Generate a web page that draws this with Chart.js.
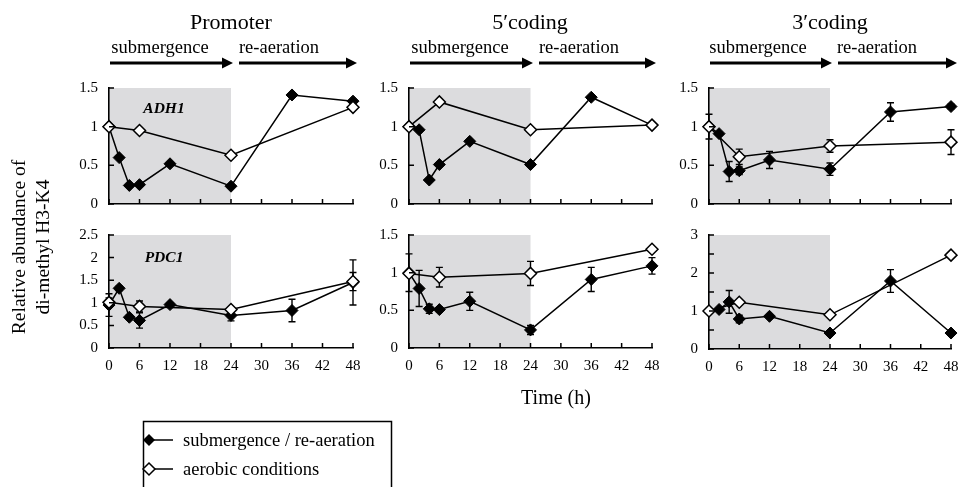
<!DOCTYPE html>
<html><head><meta charset="utf-8">
<script src="https://cdn.jsdelivr.net/npm/chart.js@4.4.1/dist/chart.umd.min.js"></script>
<style>
html,body{margin:0;padding:0;background:#fff;}
#root{position:relative;width:961px;height:487px;overflow:hidden;font-family:"Liberation Serif","Times New Roman",serif;color:#000;}
.t{position:absolute;white-space:nowrap;transform:translate(-50%,-50%);line-height:1;z-index:3;}
.r{transform:translate(-50%,-50%) rotate(-90deg);}
canvas{position:absolute;z-index:1;}
svg{position:absolute;left:0;top:0;z-index:2;}
</style></head><body><div id="root">
<svg width="961" height="487" id="deco"></svg>
<div class="t" style="left:231px;top:22px;font-size:22px;">Promoter</div>
<div class="t" style="left:530px;top:22px;font-size:22px;">5′coding</div>
<div class="t" style="left:830px;top:22px;font-size:22px;">3′coding</div>
<div class="t" style="left:160px;top:47px;font-size:18.5px;">submergence</div>
<div class="t" style="left:279px;top:47px;font-size:18.5px;">re-aeration</div>
<div class="t" style="left:460px;top:47px;font-size:18.5px;">submergence</div>
<div class="t" style="left:579px;top:47px;font-size:18.5px;">re-aeration</div>
<div class="t" style="left:758px;top:47px;font-size:18.5px;">submergence</div>
<div class="t" style="left:877px;top:47px;font-size:18.5px;">re-aeration</div>
<div class="t r" style="left:19px;top:247px;font-size:19.5px;">Relative abundance of</div>
<div class="t r" style="left:43px;top:247px;font-size:19.5px;">di-methyl H3-K4</div>
<div class="t" style="left:556px;top:397px;font-size:20px;">Time (h)</div>
<div class="t" style="left:164px;top:108px;font-size:15.5px;font-weight:bold;font-style:italic;">ADH1</div>
<div class="t" style="left:164px;top:257px;font-size:15.5px;font-weight:bold;font-style:italic;">PDC1</div>
<div class="t" style="left:183px;top:440px;font-size:18.5px;transform:translate(0,-50%);">submergence / re-aeration</div>
<div class="t" style="left:183px;top:469px;font-size:18.5px;transform:translate(0,-50%);">aerobic conditions</div>
</div>
<script>
// ---- data ----
const hoursSub = [0, 2, 4, 6, 12, 24, 36, 48];
const hoursAer = [0, 6, 24, 48];
const timeTicks = [0, 6, 12, 18, 24, 30, 36, 42, 48];
const timeTickLabels = ['0','6','12','18','24','30','36','42','48'];
const shadeHours = [0, 24];

const promADH1Sub = [1.0, 0.60, 0.24, 0.25, 0.52, 0.23, 1.41, 1.33];
const promADH1SubErr = [0, 0, 0, 0, 0, 0, 0, 0];
const promADH1Aer = [1.0, 0.95, 0.63, 1.25];
const promADH1AerErr = [0, 0, 0, 0];

const c5ADH1Sub = [1.0, 0.96, 0.31, 0.51, 0.81, 0.51, 1.38, 1.02];
const c5ADH1SubErr = [0, 0, 0, 0, 0, 0, 0, 0];
const c5ADH1Aer = [1.0, 1.32, 0.96, 1.02];
const c5ADH1AerErr = [0, 0, 0, 0];

const c3ADH1Sub = [1.0, 0.91, 0.42, 0.43, 0.57, 0.45, 1.19, 1.26];
const c3ADH1SubErr = [0.16, 0.02, 0.13, 0.05, 0.11, 0.08, 0.12, 0.03];
const c3ADH1Aer = [1.0, 0.61, 0.75, 0.80];
const c3ADH1AerErr = [0, 0.10, 0.08, 0.16];

const promPDC1Sub = [0.95, 1.32, 0.68, 0.61, 0.96, 0.72, 0.83, 1.45];
const promPDC1SubErr = [0.25, 0.05, 0.05, 0.17, 0.04, 0.12, 0.25, 0.50];
const promPDC1Aer = [1.01, 0.92, 0.85, 1.47];
const promPDC1AerErr = [0.10, 0.12, 0.03, 0.20];

const c5PDC1Sub = [1.0, 0.79, 0.52, 0.51, 0.62, 0.24, 0.91, 1.09];
const c5PDC1SubErr = [0.25, 0.24, 0.06, 0.03, 0.12, 0.06, 0.16, 0.11];
const c5PDC1Aer = [0.99, 0.94, 0.99, 1.31];
const c5PDC1AerErr = [0, 0.13, 0.16, 0.02];

const c3PDC1Sub = [1.0, 1.04, 1.24, 0.79, 0.86, 0.42, 1.79, 0.42];
const c3PDC1SubErr = [0, 0.03, 0.30, 0.10, 0.04, 0.03, 0.30, 0.03];
const c3PDC1Aer = [1.0, 1.23, 0.90, 2.47];
const c3PDC1AerErr = [0, 0, 0, 0];

const yTicks15 = [0, 0.5, 1, 1.5];
const yLabels15 = ['0', '0.5', '1', '1.5'];
const yTicks25 = [0, 0.5, 1, 1.5, 2, 2.5];
const yLabels25 = ['0', '0.5', '1', '1.5', '2', '2.5'];
const yTicks3 = [0, 0.5, 1, 1.5, 2, 2.5, 3];
const yLabels3 = ['0', '', '1', '', '2', '', '3'];

const seriesNames = ['submergence / re-aeration', 'aerobic conditions'];

// ---- layout ----
const panels = [
  {left:109, right:353, top:88, bottom:204, bottomRow:false, sub:promADH1Sub, subErr:promADH1SubErr, aer:promADH1Aer, aerErr:promADH1AerErr, yT:yTicks15, yL:yLabels15},
  {left:409, right:652, top:88, bottom:204, bottomRow:false, sub:c5ADH1Sub, subErr:c5ADH1SubErr, aer:c5ADH1Aer, aerErr:c5ADH1AerErr, yT:yTicks15, yL:yLabels15},
  {left:709, right:951, top:88, bottom:204, bottomRow:false, sub:c3ADH1Sub, subErr:c3ADH1SubErr, aer:c3ADH1Aer, aerErr:c3ADH1AerErr, yT:yTicks15, yL:yLabels15},
  {left:109, right:353, top:235, bottom:348, bottomRow:true, sub:promPDC1Sub, subErr:promPDC1SubErr, aer:promPDC1Aer, aerErr:promPDC1AerErr, yT:yTicks25, yL:yLabels25},
  {left:409, right:652, top:235, bottom:348, bottomRow:true, sub:c5PDC1Sub, subErr:c5PDC1SubErr, aer:c5PDC1Aer, aerErr:c5PDC1AerErr, yT:yTicks15, yL:yLabels15},
  {left:709, right:951, top:235, bottom:349, bottomRow:true, sub:c3PDC1Sub, subErr:c3PDC1SubErr, aer:c3PDC1Aer, aerErr:c3PDC1AerErr, yT:yTicks3, yL:yLabels3}
];

const YW = 45, PT = 24, PR = 20, PB = 22;
const FONT = '"Liberation Serif","Times New Roman",serif';

const decor = {
  id: 'decor',
  beforeDraw(chart) {
    const {ctx, scales:{x, y}} = chart;
    ctx.save();
    ctx.fillStyle = '#dcdcde';
    const x0 = x.getPixelForValue(shadeHours[0]), x1 = x.getPixelForValue(shadeHours[1]);
    const y0 = y.getPixelForValue(y.max), y1 = y.getPixelForValue(y.min);
    ctx.fillRect(x0, y0, x1 - x0, y1 - y0);
    ctx.restore();
  },
  beforeDatasetsDraw(chart) {
    const {ctx, scales:{x, y}} = chart;
    ctx.save();
    ctx.strokeStyle = '#000';
    ctx.lineWidth = 1.4;
    chart.data.datasets.forEach(ds => {
      ds.data.forEach((p, i) => {
        const e = ds.errs[i];
        if (!e) return;
        const px = x.getPixelForValue(p.x);
        const pt = y.getPixelForValue(p.y + e), pb = y.getPixelForValue(p.y - e);
        ctx.beginPath();
        ctx.moveTo(px, pt); ctx.lineTo(px, pb);
        ctx.moveTo(px - 3.5, pt); ctx.lineTo(px + 3.5, pt);
        ctx.moveTo(px - 3.5, pb); ctx.lineTo(px + 3.5, pb);
        ctx.stroke();
      });
    });
    ctx.restore();
  },
  afterDraw(chart) {
    const {ctx, scales:{x, y}} = chart;
    ctx.save();
    ctx.strokeStyle = '#000';
    ctx.lineWidth = 1.5;
    const yb = y.getPixelForValue(y.min);
    const xl = x.getPixelForValue(x.min);
    ctx.beginPath();
    x.ticks.forEach(t => {
      const px = x.getPixelForValue(t.value);
      ctx.moveTo(px, yb); ctx.lineTo(px, yb - 5);
    });
    y.ticks.forEach(t => {
      const py = y.getPixelForValue(t.value);
      ctx.moveTo(xl, py); ctx.lineTo(xl + 5, py);
    });
    ctx.stroke();
    ctx.restore();
  }
};

const root = document.getElementById('root');
panels.forEach(p => {
  const XH = p.bottomRow ? 30 : 2;
  const w = (p.right - p.left) + YW + PR;
  const h = PT + (p.bottom - p.top) + XH + PB;
  const cv = document.createElement('canvas');
  cv.width = w; cv.height = h;
  cv.style.left = (p.left - YW) + 'px';
  cv.style.top = (p.top - PT) + 'px';
  cv.style.width = w + 'px'; cv.style.height = h + 'px';
  root.appendChild(cv);
  const yMax = p.yT[p.yT.length - 1];
  new Chart(cv, {
    type: 'line',
    data: {
      datasets: [
        {label: seriesNames[1], data: hoursAer.map((t, i) => ({x: t, y: p.aer[i]})), errs: p.aerErr,
         borderColor: '#000', borderWidth: 1.5, pointStyle: 'rectRot', pointRadius: 6,
         pointBackgroundColor: '#fff', pointBorderColor: '#000', pointBorderWidth: 1.5, tension: 0, clip: false, fill: false},
        {label: seriesNames[0], data: hoursSub.map((t, i) => ({x: t, y: p.sub[i]})), errs: p.subErr,
         borderColor: '#000', borderWidth: 1.5, pointStyle: 'rectRot', pointRadius: 6,
         pointBackgroundColor: '#000', pointBorderColor: '#000', pointBorderWidth: 1, tension: 0, clip: false, fill: false}
      ]
    },
    options: {
      responsive: false, animation: false, devicePixelRatio: 1,
      layout: {padding: {top: PT, right: PR, bottom: PB, left: 0}},
      plugins: {legend: {display: false}, tooltip: {enabled: false}},
      events: [],
      scales: {
        x: {
          type: 'linear', min: 0, max: 48,
          afterBuildTicks: s => { s.ticks = timeTicks.map(v => ({value: v})); },
          afterFit: s => { s.height = XH; },
          ticks: {display: p.bottomRow, autoSkip: false, maxRotation: 0, padding: 9, color: '#000',
                  font: {family: FONT, size: 15}, callback: (v, i) => timeTickLabels[i]},
          grid: {display: false, drawTicks: false},
          border: {display: true, color: '#000', width: 1.6}
        },
        y: {
          type: 'linear', min: 0, max: yMax,
          afterBuildTicks: s => { s.ticks = p.yT.map(v => ({value: v})); },
          afterFit: s => { s.width = YW; },
          ticks: {autoSkip: false, padding: 11, color: '#000', font: {family: FONT, size: 15},
                  callback: (v, i) => p.yL[i]},
          grid: {display: false, drawTicks: false},
          border: {display: true, color: '#000', width: 1.6}
        }
      }
    },
    plugins: [decor]
  });
});

// arrows and legend (decorations)
const svg = document.getElementById('deco');
const NS = 'http://www.w3.org/2000/svg';
function el(tag, attrs) { const e = document.createElementNS(NS, tag); for (const k in attrs) e.setAttribute(k, attrs[k]); svg.appendChild(e); return e; }
const arrows = [[110, 233], [239, 357], [410, 533], [539, 656], [710, 832], [838, 957]];
arrows.forEach(([a, b]) => {
  el('line', {x1: a, y1: 63, x2: b - 9, y2: 63, stroke: '#000', 'stroke-width': 3});
  el('polygon', {points: `${b},63 ${b - 11},57.5 ${b - 11},68.5`, fill: '#000'});
});
el('rect', {x: 143.5, y: 421.5, width: 248, height: 90, fill: 'none', stroke: '#000', 'stroke-width': 1.5});
el('line', {x1: 149, y1: 440, x2: 173, y2: 440, stroke: '#000', 'stroke-width': 1.5});
el('polygon', {points: '149,434 155,440 149,446 143,440', fill: '#000'});
el('line', {x1: 149, y1: 469, x2: 173, y2: 469, stroke: '#000', 'stroke-width': 1.5});
el('polygon', {points: '149,463 155,469 149,475 143,469', fill: '#fff', stroke: '#000', 'stroke-width': 1.5});
</script>
</body></html>
